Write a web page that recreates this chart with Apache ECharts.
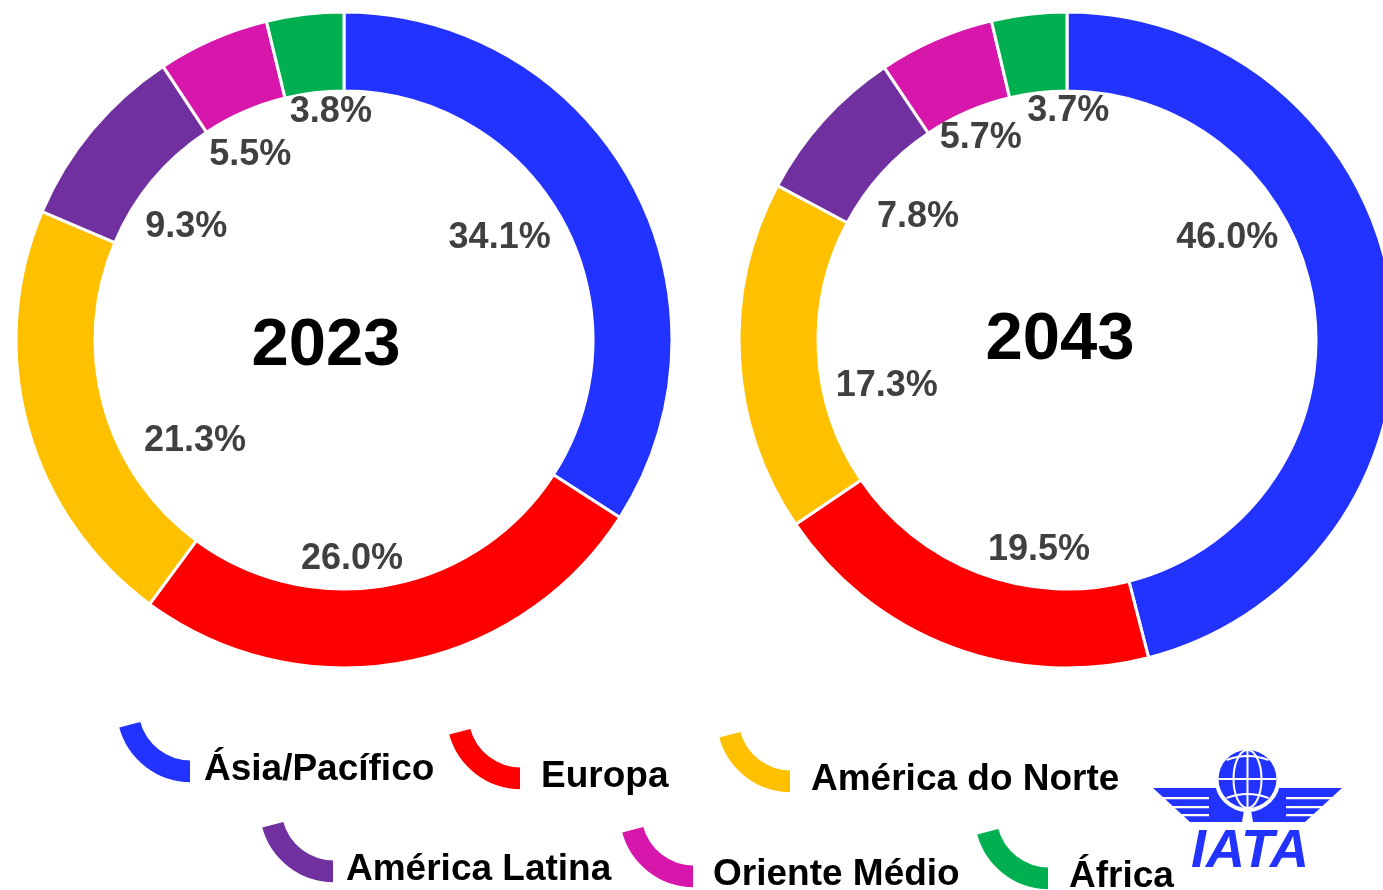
<!DOCTYPE html>
<html>
<head>
<meta charset="utf-8">
<script src="https://cdn.jsdelivr.net/npm/echarts@6/dist/echarts.min.js"></script>
<style>
html,body{margin:0;padding:0;background:#fff;}
#chart{width:1383px;height:890px;}
</style>
</head>
<body>
<div id="chart"></div>
<script>
// ---- data ----
const regions = ['Ásia/Pacífico', 'Europa', 'América do Norte', 'América Latina', 'Oriente Médio', 'África'];
const colors = ['#2233FF', '#FF0000', '#FFC000', '#7030A0', '#D716AC', '#00B050'];
const years = ['2023', '2043'];
const share2023 = [34.1, 26.0, 21.3, 9.3, 5.5, 3.8];
const share2043 = [46.0, 19.5, 17.3, 7.8, 5.7, 3.7];

// ---- layout (not data) ----
const centers = [[344, 340], [1067, 340]];
const radii = [249, 328];
const labelAngle = [[56.8, 177.9, 235.9, 305.6, 333.1, 356.7], [57.5, 187.6, 255.7, 309.5, 336.9, 0.3]];
const labelRadius = [[186, 219, 180, 194, 207, 228], [190, 212, 186, 193, 220, 229]];
const yearPos = [[326, 347], [1060, 341]];
const legendPos = [[117, 716], [447, 723], [717, 726], [260, 816], [620, 821], [975, 823]];
const legendTextGap = [13, 20, 20, 12, 19, 20];

const FONT = '"Liberation Sans", Arial, sans-serif';
const arcIcon = 'path://M-70.6 18.4 A73 73 0 0 0 0 73 L0 50 A50 50 0 0 1 -48.4 12.6 Z';

function pieSeries(idx, values) {
  return {
    type: 'pie',
    name: years[idx],
    center: centers[idx],
    radius: radii,
    startAngle: 90,
    clockwise: true,
    avoidLabelOverlap: false,
    silent: true,
    itemStyle: { borderColor: '#fff', borderWidth: 3 },
    label: {
      show: true,
      position: 'inside',
      formatter: p => p.value.toFixed(1) + '%',
      fontFamily: FONT,
      fontWeight: 'bold',
      fontSize: 36,
      color: '#404040'
    },
    labelLine: { show: false },
    emphasis: { disabled: true },
    labelLayout: function (p) {
      const a = labelAngle[idx][p.dataIndex] * Math.PI / 180;
      const r = labelRadius[idx][p.dataIndex];
      return {
        x: centers[idx][0] + r * Math.sin(a),
        y: centers[idx][1] - r * Math.cos(a),
        align: 'center',
        verticalAlign: 'middle'
      };
    },
    data: regions.map((n, i) => ({ name: n, value: values[i], itemStyle: { color: colors[i] } }))
  };
}

const legends = regions.map((n, i) => ({
  data: [n],
  left: legendPos[i][0],
  top: legendPos[i][1],
  orient: 'horizontal',
  selectedMode: false,
  icon: arcIcon,
  itemWidth: 73,
  itemHeight: 64,
  itemGap: 0,
  padding: 0,
  formatter: name => '{s| }\n{t|' + name + '}',
  textStyle: {
    rich: {
      s: { fontSize: 10, lineHeight: 36, height: 36 },
      t: {
        fontFamily: FONT,
        fontWeight: 'bold',
        fontSize: 37,
        lineHeight: 36,
        color: '#000',
        padding: [0, 0, 0, legendTextGap[i] - 5]
      }
    }
  }
}));

// IATA logo (decoration)
const B = '#2233FF';
const gx = 1247.5, gy = 779, gr = 29;
function wing(sign) {
  const m = p => [gx + sign * (p[0] - gx), p[1]];
  const body = [[1153, 788], [1236, 788], [1244, 810], [1242, 822], [1190, 822]];
  const els = [{ type: 'polygon', shape: { points: body.map(m) }, style: { fill: B } }];
  [797, 806, 814].forEach(y => {
    els.push({ type: 'polygon', shape: { points: [[1145, y], [1209, y], [1209, y + 2.2], [1145, y + 2.2]].map(m) }, style: { fill: '#fff' } });
  });
  return els;
}
const logo = [
  ...wing(1), ...wing(-1),
  { type: 'circle', shape: { cx: gx, cy: gy, r: gr + 4 }, style: { fill: '#fff' } },
  { type: 'rect', shape: { x: gx - 2, y: gy + 20, width: 4, height: 30 }, style: { fill: '#fff' } },
  { type: 'circle', shape: { cx: gx, cy: gy, r: gr }, style: { fill: B } },
  { type: 'ellipse', shape: { cx: gx, cy: gy, rx: 14, ry: gr }, style: { fill: 'none', stroke: '#fff', lineWidth: 2 } },
  { type: 'line', shape: { x1: gx, y1: gy - gr, x2: gx, y2: gy + gr }, style: { stroke: '#fff', lineWidth: 2 } },
  { type: 'line', shape: { x1: gx - gr, y1: gy, x2: gx + gr, y2: gy }, style: { stroke: '#fff', lineWidth: 2 } },
  { type: 'bezierCurve', shape: { x1: gx - 21, y1: gy - 19, x2: gx + 21, y2: gy - 19, cpx1: gx, cpy1: gy - 27 }, style: { fill: 'none', stroke: '#fff', lineWidth: 2 } },
  { type: 'bezierCurve', shape: { x1: gx - 21, y1: gy + 19, x2: gx + 21, y2: gy + 19, cpx1: gx, cpy1: gy + 11 }, style: { fill: 'none', stroke: '#fff', lineWidth: 2 } },
  { type: 'text', x: 1250, y: 852, style: { text: 'IATA', font: 'italic bold 54px ' + FONT, fill: B, textAlign: 'center', textVerticalAlign: 'middle' } }
];

const yearTexts = years.map((y, i) => ({
  type: 'text', x: yearPos[i][0], y: yearPos[i][1],
  style: { text: y, font: 'bold 67px ' + FONT, fill: '#000', textAlign: 'center', textVerticalAlign: 'middle' }
}));

const chart = echarts.init(document.getElementById('chart'), null, { renderer: 'canvas' });
chart.setOption({
  animation: false,
  backgroundColor: '#fff',
  legend: legends,
  series: [pieSeries(0, share2023), pieSeries(1, share2043)],
  graphic: [...yearTexts, ...logo]
});
</script>
</body>
</html>
